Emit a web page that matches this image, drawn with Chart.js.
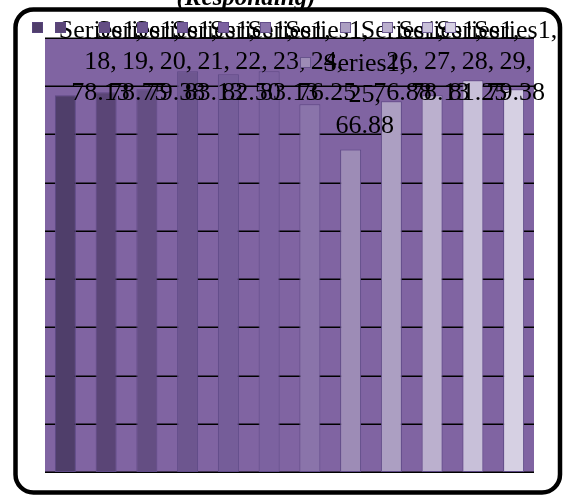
<!DOCTYPE html>
<html>
<head>
<meta charset="utf-8">
<script src="https://cdn.jsdelivr.net/npm/chart.js@4.4.1/dist/chart.umd.min.js"></script>
<style>
  html, body { margin: 0; padding: 0; background: #fff; }
  #wrap { width: 565px; height: 496px; }
</style>
</head>
<body>
<div id="wrap"><canvas id="chart" width="565" height="496"></canvas></div>
<script>
// data
const chartTitle = '(Responding)';
const seriesName = 'Series1';
const categories = ['18', '19', '20', '21', '22', '23', '24', '25', '26', '27', '28', '29'];
const values = [78.13, 78.75, 79.38, 83.13, 82.50, 83.13, 76.25, 66.88, 76.88, 78.13, 81.25, 79.38];
const yMin = 0;
const yMax = 90;
const yStep = 10;

// one shade per point, dark to light
const barColors = ['#4f3e6a', '#5a4576', '#644e83', '#6d568f', '#755d99', '#7c62a0',
  '#8a74aa', '#9d8cb6', '#ac9fc2', '#bbb0ce', '#c8c0d9', '#d6d0e3'];
const barEdge = '#5e4a86';
const plotFill = '#8064a2';

// legend boxes sit where the picture has them (row, x)
const legendSpots = [[0, 32], [0, 55], [0, 99], [0, 137], [0, 177], [0, 218],
  [0, 260], [1, 300], [0, 340], [0, 382], [0, 422], [0, 445]];

const labelFont = "26px 'Liberation Serif', 'Times New Roman', serif";

const decor = {
  id: 'decor',
  beforeDraw(chart) {
    const { ctx, chartArea: a } = chart;
    ctx.save();
    ctx.fillStyle = '#fff';
    ctx.fillRect(0, 0, chart.width, chart.height);
    ctx.fillStyle = plotFill;
    ctx.fillRect(a.left, a.top, a.right - a.left, a.bottom - a.top);
    // grid lines under the bars
    const y = chart.scales.y;
    ctx.strokeStyle = '#000';
    ctx.lineWidth = 1.5;
    y.ticks.forEach(t => {
      const py = Math.round(y.getPixelForValue(t.value)) + 0.25;
      ctx.beginPath();
      ctx.moveTo(a.left, py);
      ctx.lineTo(a.right, py);
      ctx.stroke();
    });
    ctx.restore();
  },
  afterDatasetsDraw(chart) {
    const { ctx } = chart;
    const bars = chart.getDatasetMeta(0).data;
    ctx.save();
    ctx.font = labelFont;
    ctx.fillStyle = '#000';
    ctx.textAlign = 'center';
    ctx.textBaseline = 'alphabetic';
    bars.forEach((bar, i) => {
      const lines = [seriesName + ',', categories[i] + ',', values[i].toFixed(2)];
      // labels spread a bit to the right, clamped under the top edge
      const x = bar.x + 35 - i * 3.0;
      let first = bar.y - 16 - 2 * 31;
      if (first < 38) first = 38;
      lines.forEach((t, k) => ctx.fillText(t, x, first + k * 31));
    });
    ctx.restore();
  },
  afterDraw(chart) {
    const { ctx } = chart;
    ctx.save();
    // legend boxes
    legendSpots.forEach(([row, x], i) => {
      const y = 22 + row * 35;
      ctx.fillStyle = barColors[i];
      ctx.fillRect(x, y, 11, 11);
      ctx.strokeStyle = 'rgba(90,70,130,0.8)';
      ctx.lineWidth = 1;
      ctx.strokeRect(x + 0.5, y + 0.5, 10, 10);
    });
    // title, mostly above the top edge
    ctx.fillStyle = '#000';
    ctx.font = "bold italic 25px 'Liberation Serif', 'Times New Roman', serif";
    ctx.textAlign = 'center';
    ctx.textBaseline = 'alphabetic';
    ctx.fillText(chartTitle, 246, 5);
    // rounded frame
    ctx.strokeStyle = '#000';
    ctx.lineWidth = 4.5;
    ctx.beginPath();
    ctx.roundRect(15.5, 9.5, 544.5, 483, 18);
    ctx.stroke();
    ctx.restore();
  }
};

new Chart(document.getElementById('chart'), {
  type: 'bar',
  data: {
    labels: categories,
    datasets: [{
      label: seriesName,
      data: values,
      backgroundColor: barColors,
      borderColor: barEdge,
      borderWidth: 1,
      borderSkipped: false,
      categoryPercentage: 1,
      barPercentage: 0.515
    }]
  },
  options: {
    responsive: false,
    animation: false,
    devicePixelRatio: 1,
    layout: { padding: { left: 45, right: 31, top: 38, bottom: 24 } },
    plugins: {
      legend: { display: false },
      title: { display: false },
      tooltip: { enabled: false }
    },
    scales: {
      x: {
        grid: { display: false },
        border: { display: false },
        ticks: { display: false },
        afterFit(s) { s.height = 0; }
      },
      y: {
        min: yMin,
        max: yMax,
        ticks: { display: false, stepSize: yStep },
        grid: { display: false },
        border: { display: false },
        afterFit(s) { s.width = 0; }
      }
    }
  },
  plugins: [decor]
});
</script>
</body>
</html>
